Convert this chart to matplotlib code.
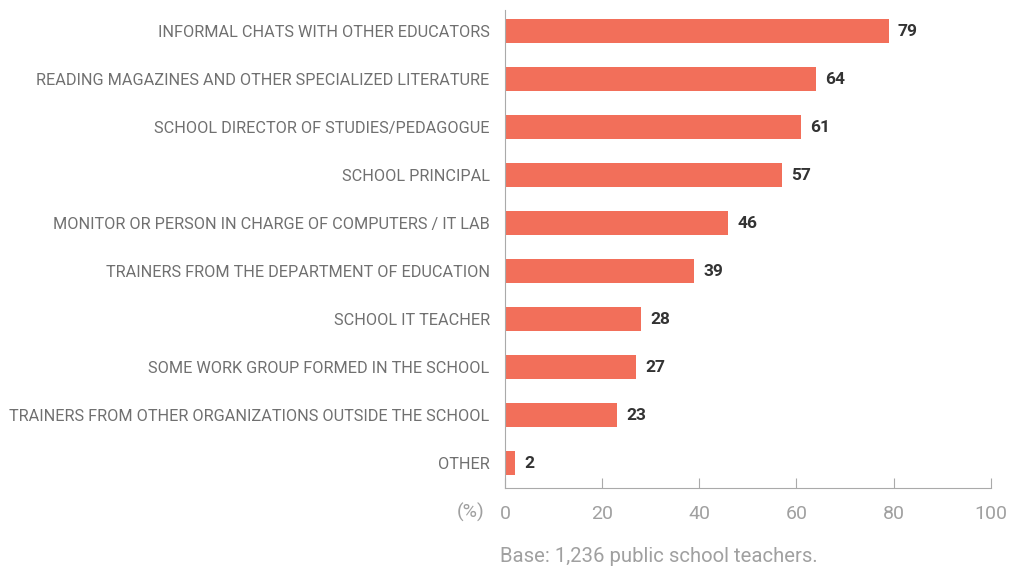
import matplotlib
matplotlib.use("Agg")
import matplotlib.pyplot as plt

categories = [
    "INFORMAL CHATS WITH OTHER EDUCATORS",
    "READING MAGAZINES AND OTHER SPECIALIZED LITERATURE",
    "SCHOOL DIRECTOR OF STUDIES/PEDAGOGUE",
    "SCHOOL PRINCIPAL",
    "MONITOR OR PERSON IN CHARGE OF COMPUTERS / IT LAB",
    "TRAINERS FROM THE DEPARTMENT OF EDUCATION",
    "SCHOOL IT TEACHER",
    "SOME WORK GROUP FORMED IN THE SCHOOL",
    "TRAINERS FROM OTHER ORGANIZATIONS OUTSIDE THE SCHOOL",
    "OTHER",
]
values = [79, 64, 61, 57, 46, 39, 28, 27, 23, 2]
xticks = [0, 20, 40, 60, 80, 100]

BAR = "#F26F5A"
plt.rcParams["font.family"] = ["Roboto", "DejaVu Sans"]

fig = plt.figure(figsize=(10.11, 5.67), dpi=100)
ax = fig.add_axes([0.4995, 0.139, 0.4805, 0.843])

pos = list(range(len(categories)))
ax.barh(pos, values, height=0.5, color=BAR)
for p, v in zip(pos, values):
    ax.text(v + 1.9, p, str(v), va="center", ha="left", fontsize=12.5,
            fontweight="bold", color="#333333")

ax.set_xlim(0, 100)
ax.set_ylim(9.52, -0.44)
ax.set_yticks(pos)
ax.set_yticklabels(categories, fontsize=11.7, color="#707070")
ax.tick_params(axis="y", length=0, pad=11)
ax.set_xticks(xticks)
ax.set_xticklabels([str(t) for t in xticks], fontsize=14, color="#a0a0a0")
ax.tick_params(axis="x", direction="in", length=7, color="#aaaaaa", pad=12)

for s in ["top", "right"]:
    ax.spines[s].set_visible(False)
ax.spines["left"].set_color("#aaaaaa")
ax.spines["bottom"].set_color("#aaaaaa")

fig.text(484 / 1011, 1 - 512 / 567, "(%)", ha="right", va="center", fontsize=14,
         color="#a0a0a0")
fig.text(500 / 1011, 1 - 557 / 567, "Base: 1,236 public school teachers.",
         ha="left", va="center", fontsize=14.6, color="#a0a0a0")

fig.savefig("out.png", dpi=100)
